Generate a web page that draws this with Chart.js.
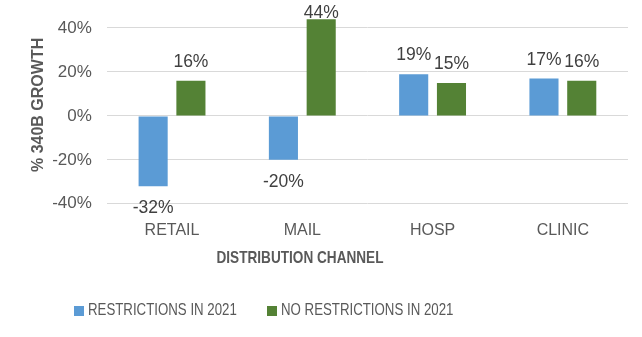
<!DOCTYPE html>
<html>
<head>
<meta charset="utf-8">
<script src="https://cdn.jsdelivr.net/npm/chart.js@4.4.1/dist/chart.umd.min.js"></script>
<style>
  html, body { margin: 0; padding: 0; background: #fff; }
  #wrap { position: relative; width: 642px; height: 337px; }
  #x-title {
    position: absolute; left: 150px; width: 300px; top: 248px; line-height: 20px;
    text-align: center; color: #595959; white-space: nowrap;
    font: bold 17px 'Liberation Sans', Arial, sans-serif;
    transform: scaleX(0.8); transform-origin: 50% 50%;
  }
  #legend {
    position: absolute; left: 74px; top: 300px; margin: 0; padding: 0;
    list-style: none; display: flex; white-space: nowrap;
    font: 17px 'Liberation Sans', Arial, sans-serif; color: #595959;
  }
  #legend li { display: flex; align-items: center; line-height: 20px; margin-right: 30px; }
  #legend .swatch { width: 10px; height: 10px; margin-right: 4px; margin-top: 1px; }
  #legend .label { display: inline-block; transform: scaleX(0.78); transform-origin: 0 50%; }
</style>
</head>
<body>
<div id="wrap">
  <canvas id="growth-chart"></canvas>
  <div id="x-title">DISTRIBUTION CHANNEL</div>
  <ul id="legend"></ul>
</div>
<script>
'use strict';

const channels = ['RETAIL', 'MAIL', 'HOSP', 'CLINIC'];
const restricted = [-32, -20, 19, 17];
const unrestricted = [16, 44, 15, 16];
const seriesNames = ['RESTRICTIONS IN 2021', 'NO RESTRICTIONS IN 2021'];
const yTicks = [-40, -20, 0, 20, 40, 50]; // 50 = axis top, no label / gridline
const Y_TOP = 50;

const FONT = "'Liberation Sans', Arial, sans-serif";

// bar value labels: above positive bars, below negative ones
const BarLabels = {
  id: 'barLabels',
  afterDatasetsDraw(chart) {
    const { ctx, chartArea } = chart;
    ctx.save();
    ctx.font = `17.5px ${FONT}`;
    ctx.fillStyle = '#404040';
    ctx.textAlign = 'center';
    ctx.textBaseline = 'alphabetic';
    chart.data.datasets.forEach((ds, i) => {
      chart.getDatasetMeta(i).data.forEach((bar, j) => {
        const v = ds.data[j];
        // keep labels inside the chart like excel does
        const y = v >= 0 ? Math.max(bar.y - 14, chartArea.top + 12) : bar.y + 27;
        ctx.fillText(v + '%', bar.x, y);
      });
    });
    ctx.restore();
  }
};

const chart = new Chart(document.getElementById('growth-chart'), {
  type: 'bar',
  data: {
    labels: channels,
    datasets: [
      { label: seriesNames[0], data: restricted, backgroundColor: '#5B9BD5' },
      { label: seriesNames[1], data: unrestricted, backgroundColor: '#548235' }
    ]
  },
  options: {
    responsive: true,
    maintainAspectRatio: false,
    animation: false,
    datasets: { bar: { categoryPercentage: 0.58, barPercentage: 0.77 } },
    layout: { padding: { left: 28, right: 14, top: 6, bottom: 80 } },
    plugins: {
      legend: { display: false },
      tooltip: { enabled: false }
    },
    scales: {
      x: {
        grid: { display: false, drawTicks: false },
        border: { display: false },
        ticks: { color: '#595959', font: { family: FONT, size: 16 }, padding: 17 }
      },
      y: {
        min: -40, max: Y_TOP,
        afterBuildTicks(scale) { scale.ticks = yTicks.map(v => ({ value: v })); },
        // invisible tick marks give the label gap without padding the top
        grid: {
          color: c => (c.tick && c.tick.value === Y_TOP ? 'rgba(0,0,0,0)' : '#D9D9D9'),
          lineWidth: 1, drawTicks: true, tickLength: 12, tickColor: 'rgba(0,0,0,0)'
        },
        border: { display: false },
        ticks: {
          color: '#595959', font: { family: FONT, size: 17 }, padding: 3,
          // empty array = zero-height label, so the top isn't padded for it
          callback: v => (v === Y_TOP ? [] : v + '%')
        },
        title: {
          display: true, text: '% 340B GROWTH', color: '#595959',
          font: { family: FONT, size: 16, weight: 'bold' }, padding: { top: 1, bottom: 1 }
        }
      }
    }
  },
  plugins: [BarLabels]
});

// legend built from the chart's own datasets
const legendEl = document.getElementById('legend');
legendEl.innerHTML = chart.data.datasets.map(ds =>
  `<li><span class="swatch" style="background:${ds.backgroundColor}"></span><span class="label">${ds.label}</span></li>`
).join('');
// scaleX doesn't shrink the layout box, pull the next item back in
legendEl.querySelectorAll('.label').forEach(el => {
  const w = el.offsetWidth;
  el.style.marginRight = `${-(w * (1 - 0.78))}px`;
});
</script>
</body>
</html>
